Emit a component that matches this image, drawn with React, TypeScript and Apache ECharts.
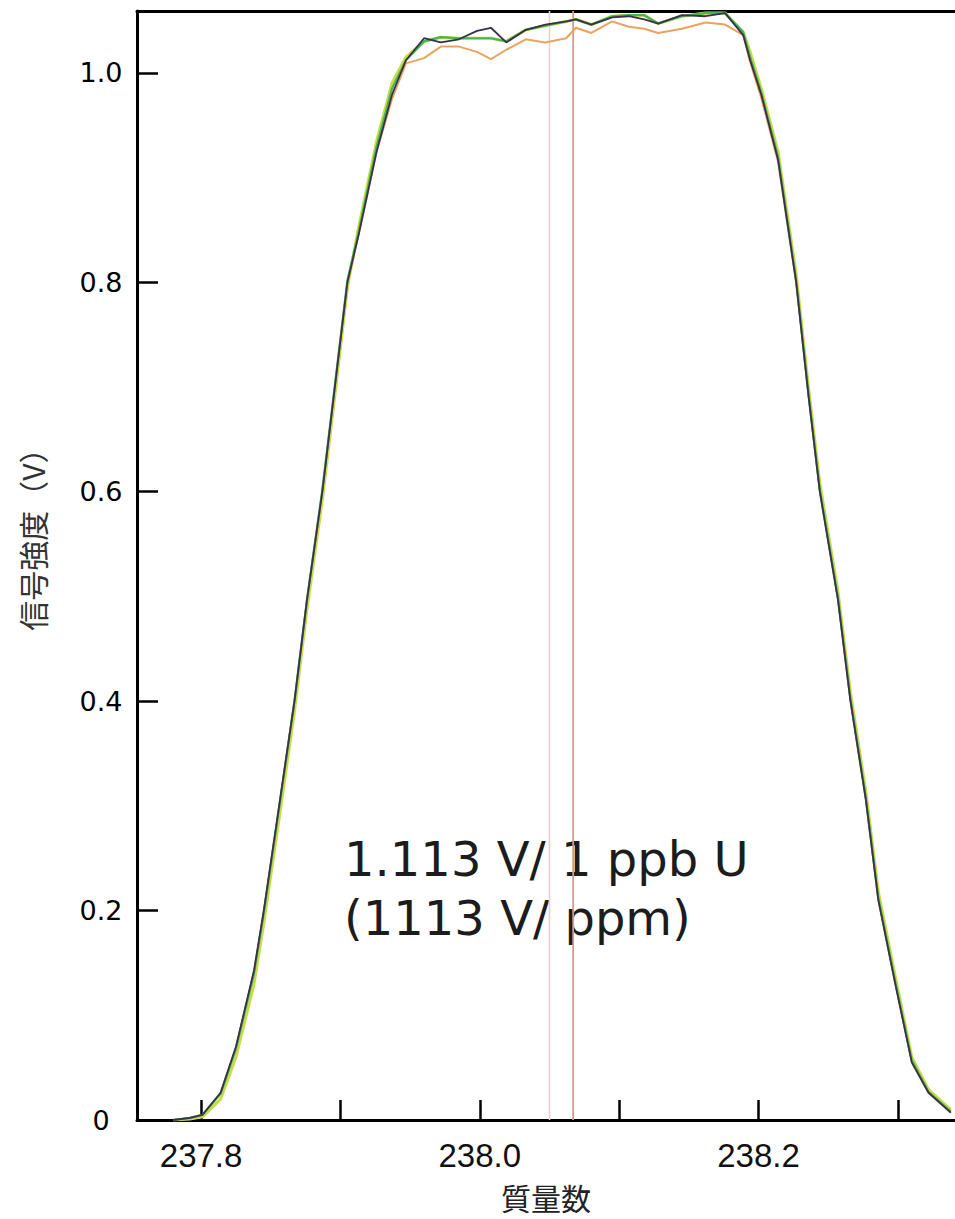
import React, { useEffect, useRef } from "react";
import * as echarts from "echarts";

// Mass numbers (u) at which the scans were sampled
const massNumbers = [
  237.78, 237.792, 237.801, 237.814, 237.825, 237.838, 237.845, 237.856, 237.867, 237.876,
  237.887, 237.896, 237.905, 237.913, 237.926, 237.937, 237.947, 237.96, 237.972, 237.985,
  237.998, 238.008, 238.019, 238.033, 238.047, 238.062, 238.069, 238.08, 238.095, 238.107,
  238.118, 238.128, 238.145, 238.162, 238.176, 238.189, 238.194, 238.202, 238.214, 238.227,
  238.236, 238.244, 238.257, 238.266, 238.277, 238.286, 238.298, 238.31, 238.322, 238.338,
];

// Signal intensity (V) of the four repeated scans
const scanYellow = [
  0.0, 0.001, 0.003, 0.02, 0.06, 0.13, 0.188, 0.288, 0.39, 0.488,
  0.592, 0.692, 0.795, 0.852, 0.935, 0.99, 1.015, 1.03, 1.034, 1.033,
  1.033, 1.033, 1.03, 1.041, 1.045, 1.049, 1.051, 1.046, 1.054, 1.055,
  1.055, 1.047, 1.054, 1.057, 1.057, 1.039, 1.02, 0.985, 0.925, 0.808,
  0.698, 0.608, 0.505, 0.408, 0.314, 0.218, 0.138, 0.06, 0.029, 0.01,
];
const scanOrange = [
  0.0, 0.002, 0.005, 0.026, 0.069, 0.142, 0.2, 0.3, 0.4, 0.497,
  0.6, 0.7, 0.8, 0.845, 0.925, 0.975, 1.009, 1.014, 1.025, 1.025,
  1.02, 1.013, 1.022, 1.032, 1.029, 1.033, 1.043, 1.038, 1.049, 1.044,
  1.042, 1.038, 1.042, 1.048, 1.046, 1.036, 1.01, 0.976, 0.915, 0.8,
  0.69, 0.6, 0.497, 0.4, 0.306, 0.21, 0.131, 0.055, 0.026, 0.007,
];
const scanGreen = [
  0.0, 0.002, 0.005, 0.025, 0.068, 0.14, 0.198, 0.298, 0.4, 0.497,
  0.602, 0.702, 0.802, 0.848, 0.93, 0.985, 1.012, 1.03, 1.034, 1.033,
  1.033, 1.033, 1.03, 1.041, 1.045, 1.049, 1.051, 1.046, 1.054, 1.055,
  1.055, 1.047, 1.054, 1.057, 1.057, 1.039, 1.015, 0.981, 0.92, 0.802,
  0.692, 0.602, 0.499, 0.402, 0.308, 0.212, 0.133, 0.057, 0.027, 0.008,
];
const scanDark = [
  0.0, 0.002, 0.005, 0.026, 0.07, 0.143, 0.2, 0.3, 0.4, 0.497,
  0.6, 0.7, 0.8, 0.845, 0.925, 0.979, 1.012, 1.033, 1.029, 1.032,
  1.04, 1.043, 1.029, 1.041, 1.046, 1.049, 1.051, 1.046, 1.053, 1.054,
  1.051, 1.047, 1.055, 1.054, 1.057, 1.036, 1.012, 0.979, 0.917, 0.8,
  0.69, 0.6, 0.497, 0.4, 0.306, 0.21, 0.131, 0.055, 0.026, 0.007,
];

// Axis ticks and labels
const xTicks = [237.8, 237.9, 238.0, 238.1, 238.2, 238.3];
const xLabels = [237.8, 238.0, 238.2];
const yTicks = [0, 0.2, 0.4, 0.6, 0.8, 1.0];

// Vertical reference lines (mass numbers) and their colours
const refLines = [238.05, 238.067];
const refColors = ["#e6cfcc", "#cc9c90"];

const X_MIN = 237.754;
const X_MAX = 238.341;
const Y_MAX = 1.059;

export default function App() {
  const ref = useRef<HTMLDivElement>(null);

  useEffect(() => {
    document.body.style.margin = "0";
    const chart = echarts.init(ref.current!, null, { renderer: "svg" });
    const pairs = (vals: number[]) => massNumbers.map((m, i) => [m, vals[i]]);

    const lineSeries = (name: string, vals: number[], color: string, width: number, z: number) => ({
      name,
      type: "line",
      data: pairs(vals),
      showSymbol: false,
      symbol: "none",
      clip: true,
      z,
      lineStyle: { color, width },
    });

    // full-height vertical markers
    const refSeries = refLines.map((m, i) => ({
      name: `ref ${i + 1}`,
      type: "line",
      data: [
        [m, 0],
        [m, Y_MAX],
      ],
      showSymbol: false,
      symbol: "none",
      silent: true,
      z: 1,
      lineStyle: { color: refColors[i], width: i === 0 ? 1.6 : 1.8 },
    }));

    chart.setOption({
      animation: false,
      backgroundColor: "#ffffff",
      grid: { left: 137, right: 0, top: 11, bottom: 99, containLabel: false },
      xAxis: [
        {
          type: "value",
          min: X_MIN,
          max: X_MAX,
          axisLine: { show: true, onZero: false, lineStyle: { color: "#000", width: 3 } },
          axisTick: {
            show: true,
            inside: true,
            length: 20,
            customValues: xTicks,
            lineStyle: { color: "#000", width: 2.5 },
          },
          axisLabel: {
            show: true,
            customValues: xLabels,
            formatter: (v: number) => v.toFixed(1),
            fontFamily: "Liberation Sans",
            fontSize: 33,
            color: "#111",
            margin: 19,
          },
          splitLine: { show: false },
          name: "質量数",
          nameLocation: "middle",
          nameGap: 62,
          nameTextStyle: { fontFamily: "Noto Sans CJK JP", fontSize: 30, color: "#222" },
        },
        {
          type: "value",
          position: "top",
          min: X_MIN,
          max: X_MAX,
          axisLine: { show: true, onZero: false, lineStyle: { color: "#000", width: 3 } },
          axisTick: { show: false },
          axisLabel: { show: false },
          splitLine: { show: false },
        },
      ],
      yAxis: {
        type: "value",
        min: 0,
        max: Y_MAX,
        axisLine: { show: true, onZero: false, lineStyle: { color: "#000", width: 3 } },
        axisTick: {
          show: true,
          inside: true,
          length: 21,
          customValues: yTicks,
          lineStyle: { color: "#000", width: 2.5 },
        },
        axisLabel: {
          show: true,
          customValues: yTicks,
          formatter: (v: number) => (v === 0 ? "0" : v.toFixed(1)),
          align: "center",
          margin: 36,
          fontFamily: "DejaVu Sans",
          fontSize: 27,
          color: "#000",
        },
        splitLine: { show: false },
      },
      series: [
        ...refSeries,
        lineSeries("scan 4", scanYellow, "#c9dc45", 3, 2),
        lineSeries("scan 3", scanOrange, "#eba35f", 2, 3),
        lineSeries("scan 2", scanGreen, "#45b552", 2.2, 4),
        lineSeries("scan 1", scanDark, "#3a2f4f", 1.8, 5),
      ],
      graphic: [
        {
          type: "text",
          x: 32,
          y: 532,
          rotation: Math.PI / 2,
          style: {
            text: "信号強度（V）",
            fontFamily: "Noto Sans CJK JP",
            fontSize: 30,
            fill: "#333",
            align: "center",
            verticalAlign: "middle",
          },
        },
        {
          type: "text",
          x: 344,
          y: 859,
          style: {
            text: "1.113 V/ 1 ppb U",
            fontFamily: "DejaVu Sans",
            fontSize: 48,
            fill: "#1c1c1c",
            align: "left",
            verticalAlign: "middle",
          },
        },
        {
          type: "text",
          x: 344,
          y: 918,
          style: {
            text: "(1113 V/ ppm)",
            fontFamily: "DejaVu Sans",
            fontSize: 48,
            fill: "#1c1c1c",
            align: "left",
            verticalAlign: "middle",
          },
        },
      ],
    });

    return () => chart.dispose();
  }, []);

  return <div ref={ref} style={{ width: 955, height: 1219 }} />;
}
